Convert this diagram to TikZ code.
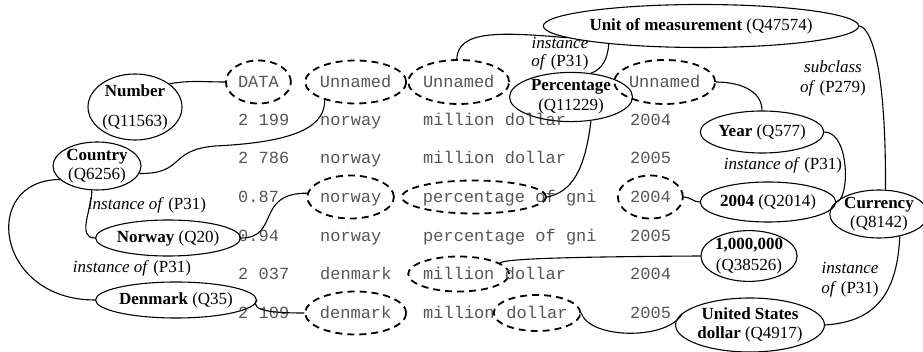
\documentclass[tikz,border=0pt]{standalone}
\usepackage{fontspec}
\setmainfont{Liberation Serif}
\setmonofont{Liberation Mono}
\usetikzlibrary{shapes.geometric}
\definecolor{celltext}{HTML}{555555}
\tikzset{
  ent/.style={ellipse, draw, line width=1.1pt, inner sep=0pt, align=center,
    font=\fontsize{17}{19}\selectfont},
  cell/.style={ellipse, draw, dash pattern=on 7pt off 5pt, line width=1.8pt,
    inner sep=0pt, text=celltext, font=\ttfamily\fontsize{17}{19}\selectfont,
    text height=12pt, text depth=0pt},
  mono/.style={anchor=west, inner sep=0pt, text=celltext,
    font=\ttfamily\fontsize{17}{19}\selectfont, text height=12pt, text depth=0pt},
  lbl/.style={align=center, inner sep=0pt, font=\fontsize{17}{19}\selectfont},
  conn/.style={line width=1.1pt},
}
\begin{document}
\begin{tikzpicture}[x=1pt,y=-1pt]
\useasboundingbox (0,0) rectangle (923,352);

% ---------- table ----------
% row 0
\node[cell, minimum width=65pt, minimum height=43pt] (data) at (258.4,82) {DATA};
\node[cell, minimum width=85pt, minimum height=43pt] (un2) at (355.7,82) {Unnamed};
\node[cell, minimum width=85pt, minimum height=44pt] (un3) at (458.7,82) {Unnamed};
\node[cell, minimum width=85pt, minimum height=44pt] (un4) at (664.7,82) {Unnamed};
% row 1
\node[mono] (a1) at (238,120) {2 199};
\node[mono] (b1) at (320,120) {norway};
\node[mono] (c1) at (423,120) {million dollar};
\node[mono] (d1) at (630,120) {2004};
% row 2
\node[mono] (a2) at (238,158) {2 786};
\node[mono] (b2) at (320,158) {norway};
\node[mono] (c2) at (423,158) {million dollar};
\node[mono] (d2) at (630,158) {2005};
% row 3
\node[mono] (a3) at (238,197) {0.87};
\node[cell, minimum width=85pt, minimum height=43pt] (nw3) at (350.6,197) {norway};
\node[cell, minimum width=128pt, minimum height=33pt] (pc3) at (474,197) {percentage};
\node[mono] (c3) at (535.2,197) {of gni};
\node[cell, minimum width=65pt, minimum height=43pt] (d2004) at (650.4,197) {2004};
% row 4
\node[mono] (a4) at (238,236) {0.94};
\node[mono] (b4) at (320,236) {norway};
\node[mono] (c4) at (423,236) {percentage of gni};
\node[mono] (d4) at (630,236) {2005};
% row 5
\node[mono] (a5) at (238,274) {2 037};
\node[mono] (b5) at (320,274) {denmark};
\node[cell, minimum width=83pt, minimum height=35pt] (ml5) at (458.7,274) {million};
\node[mono] (c5) at (504.6,274) {dollar};
\node[mono] (d5) at (630,274) {2004};
% row 6
\node[mono] (a6) at (238,313) {2 109};
\node[cell, minimum width=87pt, minimum height=43pt] (dk6) at (355.7,313) {denmark};
\node[mono] (b6) at (423,313) {million};
\node[cell, minimum width=85pt, minimum height=36pt] (dl6) at (537,313) {dollar};
\node[mono] (d6) at (630,313) {2005};

% ---------- entities ----------
\node[ent, minimum width=94pt, minimum height=66pt] (number) at (135,107) {\textbf{Number}\\[11pt](Q11563)};
\node[ent, minimum width=88pt, minimum height=48pt] (country) at (97,166) {\textbf{Country}\\(Q6256)};
\node[ent, minimum width=121pt, minimum height=36pt] (norway) at (168,238) {\textbf{Norway} (Q20)};
\node[ent, minimum width=127pt, minimum height=36pt] (denmark) at (176,300) {\textbf{Denmark} (Q35)};
\node[ent, minimum width=258pt, minimum height=43pt] (unit) at (701,26) {\textbf{Unit of measurement} (Q47574)};
\node[ent, minimum width=123pt, minimum height=40pt] (perc) at (571,97) {\textbf{Percentage}\\[1pt](Q11229)};
\node[ent, minimum width=121pt, minimum height=42pt] (year) at (762,132) {\textbf{Year} (Q577)};
\node[ent, minimum width=121pt, minimum height=40pt] (y2004) at (768,202) {\textbf{2004} (Q2014)};
\node[ent, minimum width=72pt, minimum height=48pt] (curr) at (879,214) {\textbf{Currency}\\(Q8142)};
\node[ent, minimum width=95pt, minimum height=42pt] (m1) at (749,256) {\textbf{1,000,000}\\[2pt](Q38526)};
\node[ent, minimum width=125pt, minimum height=54pt] (usd) at (750,325) {\textbf{United States}\\\textbf{dollar} (Q4917)};

% ---------- labels ----------
\node[lbl] (l1) at (560,54) {\textit{instance}\\[-1pt]\textit{of} (P31)};
\node[lbl] (l2) at (833,78) {\textit{subclass}\\[1pt]\textit{of} (P279)};
\node[lbl] (l3) at (783,165) {\textit{instance of} (P31)};
\node[lbl] (l4) at (850,280) {\textit{instance}\\[1pt]\textit{of} (P31)};
\node[lbl] (l5) at (147,205) {\textit{instance of} (P31)};
\node[lbl] (l6) at (132,268) {\textit{instance of} (P31)};

% ---------- connectors ----------
\draw[conn] (number.34) to[out=10,in=180] (data.west);
\draw[conn] (country.-10) .. controls (185,174) and (168,150) .. (215,146)
  .. controls (300,142) and (325,125) .. (un2.-150);
\draw[conn] (country.-102) to[out=-90,in=180] (norway.west);
\draw[conn] (country.-160) .. controls (-20,180) and (-5,300) .. (denmark.west);
\draw[conn] (norway.east) .. controls (280,238) and (255,193) .. (nw3.175);
\draw[conn] (denmark.east) .. controls (248,312) and (280,313) .. (dk6.west);
\draw[conn] (unit.185) .. controls (500,32) and (458,30) .. (un3.95);
\draw[conn] (unit.-169) to[out=-95,in=20] (perc.50);
\draw[conn] (perc.-50) .. controls (585,170) and (572,192) .. (pc3.east);
\draw[conn] (un4.east) to[out=0,in=90] (year.north);
\draw[conn] (year.east) .. controls (850,132) and (850,200) .. (y2004.east);
\draw[conn] (d2004.east) to[out=0,in=180] (y2004.west);
\draw[conn] (unit.east) .. controls (872,28) and (886,70) .. (curr.75);
\draw[conn] (curr.-47) .. controls (897,300) and (870,322) .. (usd.east);
\draw[conn] (ml5.15) .. controls (505,260) and (530,257) .. (m1.west);
\draw[conn] (dl6.east) .. controls (590,340) and (670,340) .. (usd.170);
\end{tikzpicture}
\end{document}
